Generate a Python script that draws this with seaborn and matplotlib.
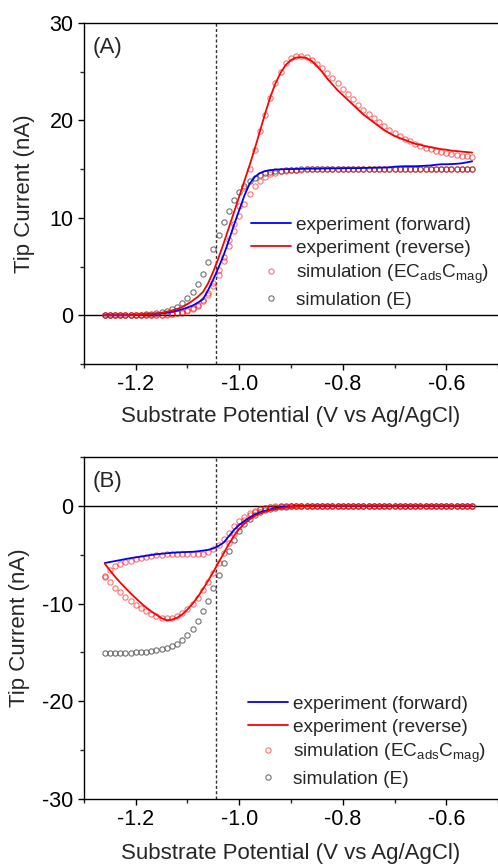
import seaborn as sns
import matplotlib.pyplot as plt
from matplotlib.ticker import MultipleLocator, FormatStrFormatter

# substrate potential (V vs Ag/AgCl), shared by every series
potential = [-1.26, -1.25, -1.24, -1.23, -1.22, -1.21, -1.20, -1.19, -1.18, -1.17,
             -1.16, -1.15, -1.14, -1.13, -1.12, -1.11, -1.10, -1.09, -1.08, -1.07,
             -1.06, -1.05, -1.04, -1.03, -1.02, -1.01, -1.00, -0.99, -0.98, -0.97,
             -0.96, -0.95, -0.94, -0.93, -0.92, -0.91, -0.90, -0.89, -0.88, -0.87,
             -0.86, -0.85, -0.84, -0.83, -0.82, -0.81, -0.80, -0.79, -0.78, -0.77,
             -0.76, -0.75, -0.74, -0.73, -0.72, -0.71, -0.70, -0.69, -0.68, -0.67,
             -0.66, -0.65, -0.64, -0.63, -0.62, -0.61, -0.60, -0.59, -0.58, -0.57,
             -0.56, -0.55]

# --- panel (A), tip current in nA ---
a_exp_fwd = [0.0, 0.0, 0.0, 0.0, 0.01, 0.02, 0.03, 0.05, 0.07, 0.1,
             0.15, 0.21, 0.28, 0.37, 0.48, 0.62, 0.8, 1.0, 1.3, 1.65,
             2.6, 3.7, 4.9, 6.2, 7.7, 9.3, 10.8, 12.3, 13.5, 14.2,
             14.6, 14.8, 14.9, 14.95, 14.98, 15.0, 15.0, 15.02, 15.03, 15.04,
             15.05, 15.05, 15.06, 15.07, 15.08, 15.08, 15.09, 15.1, 15.1, 15.1,
             15.12, 15.13, 15.14, 15.15, 15.16, 15.18, 15.25, 15.28, 15.3, 15.3,
             15.3, 15.32, 15.35, 15.38, 15.45, 15.5, 15.5, 15.52, 15.55, 15.6,
             15.7, 15.8]
a_exp_rev = [0.0, 0.0, 0.0, 0.0, 0.01, 0.02, 0.04, 0.06, 0.09, 0.13,
             0.19, 0.27, 0.37, 0.5, 0.65, 0.85, 1.15, 1.5, 1.9, 2.4,
             3.3, 4.5, 5.9, 7.4, 9.0, 10.6, 12.2, 13.8, 15.4, 17.1,
             18.9, 20.7, 22.4, 23.8, 24.9, 25.7, 26.2, 26.45, 26.5, 26.4,
             26.1, 25.6, 25.0, 24.3, 23.7, 23.1, 22.6, 22.1, 21.6, 21.1,
             20.6, 20.2, 19.8, 19.4, 19.0, 18.7, 18.4, 18.2, 18.0, 17.8,
             17.6, 17.5, 17.35, 17.25, 17.15, 17.05, 17.0, 16.9, 16.85, 16.8,
             16.75, 16.7]
a_sim_fwd = [0.0, 0.0, 0.0, 0.0, 0.0, 0.0, 0.01, 0.01, 0.02, 0.02,
             0.03, 0.05, 0.08, 0.12, 0.19, 0.28, 0.43, 0.65, 0.97, 1.44,
             2.09, 2.99, 4.15, 5.55, 7.1, 8.69, 10.18, 11.46, 12.5, 13.26,
             13.82, 14.2, 14.47, 14.65, 14.77, 14.85, 14.9, 14.94, 14.96, 14.97,
             14.98, 14.99, 15.0, 15.0, 15.0, 15.0, 15.0, 15.0, 15.0, 15.0,
             15.0, 15.0, 15.0, 15.0, 15.0, 15.0, 15.0, 15.0, 15.0, 15.0,
             15.0, 15.0, 15.0, 15.0, 15.0, 15.0, 15.0, 15.0, 15.0, 15.0,
             15.0, 15.0]
a_sim_rev = [0.0, 0.0, 0.0, 0.0, 0.0, 0.0, 0.0, 0.01, 0.02, 0.03,
             0.05, 0.07, 0.1, 0.15, 0.22, 0.33, 0.5, 0.75, 1.1, 1.6,
             2.3, 3.3, 4.6, 6.0, 7.7, 9.4, 11.2, 13.1, 15.0, 17.0,
             18.9, 20.6, 22.3, 23.8, 25.0, 25.85, 26.4, 26.65, 26.65, 26.5,
             26.2, 25.8, 25.35, 24.85, 24.35, 23.8, 23.25, 22.7, 22.15, 21.6,
             21.1, 20.65, 20.2, 19.8, 19.4, 19.05, 18.7, 18.4, 18.1, 17.85,
             17.6, 17.4, 17.2, 17.05, 16.9, 16.75, 16.65, 16.55, 16.45, 16.35,
             16.3, 16.2]
a_sim_e = [0.0, 0.01, 0.01, 0.01, 0.02, 0.03, 0.05, 0.07, 0.1, 0.15,
           0.21, 0.3, 0.43, 0.62, 0.88, 1.24, 1.73, 2.38, 3.21, 4.26,
           5.47, 6.81, 8.19, 9.53, 10.74, 11.79, 12.63, 13.27, 13.76, 14.12,
           14.38, 14.57, 14.7, 14.79, 14.85, 14.9, 14.93, 14.95, 14.97, 14.98,
           15.0, 15.0, 15.0, 15.0, 15.0, 15.0, 15.0, 15.0, 15.0, 15.0,
           15.0, 15.0, 15.0, 15.0, 15.0, 15.0, 15.0, 15.0, 15.0, 15.0,
           15.0, 15.0, 15.0, 15.0, 15.0, 15.0, 15.0, 15.0, 15.0, 15.0,
           15.0, 15.0]

# --- panel (B), tip current in nA ---
b_exp_fwd = [-5.85, -5.75, -5.65, -5.55, -5.45, -5.35, -5.27, -5.19, -5.11, -5.03,
             -4.95, -4.9, -4.85, -4.8, -4.77, -4.74, -4.72, -4.7, -4.65, -4.58,
             -4.5, -4.35, -4.1, -3.75, -3.1, -2.45, -1.95, -1.55, -1.2, -0.9,
             -0.67, -0.5, -0.35, -0.22, -0.13, -0.08, -0.05, -0.03, -0.02, -0.01,
             0.0, 0.0, 0.0, 0.0, 0.0, 0.0, 0.0, 0.0, 0.0, 0.0,
             0.0, 0.0, 0.0, 0.0, 0.0, 0.0, 0.0, 0.0, 0.0, 0.0,
             0.0, 0.0, 0.0, 0.0, 0.0, 0.0, 0.0, 0.0, 0.0, 0.0,
             0.0, 0.0]
b_exp_rev = [-5.9, -6.6, -7.25, -7.85, -8.4, -8.95, -9.45, -9.95, -10.4, -10.8,
             -11.15, -11.5, -11.7, -11.65, -11.45, -11.1, -10.6, -10.0, -9.3, -8.5,
             -7.65, -6.75, -5.8, -4.85, -3.9, -3.05, -2.35, -1.8, -1.4, -1.05,
             -0.8, -0.6, -0.45, -0.33, -0.24, -0.17, -0.12, -0.08, -0.05, -0.03,
             -0.02, -0.01, 0.0, 0.0, 0.0, 0.0, 0.0, 0.0, 0.0, 0.0,
             0.0, 0.0, 0.0, 0.0, 0.0, 0.0, 0.0, 0.0, 0.0, 0.0,
             0.0, 0.0, 0.0, 0.0, 0.0, 0.0, 0.0, 0.0, 0.0, 0.0,
             0.0, 0.0]
b_sim_fwd = [-7.2, -6.6, -6.2, -5.95, -5.75, -5.6, -5.45, -5.35, -5.25, -5.15,
             -5.08, -5.0, -4.95, -4.92, -4.9, -4.9, -4.9, -4.92, -4.93, -4.9,
             -4.75, -4.45, -4.0, -3.4, -2.75, -2.1, -1.55, -1.1, -0.75, -0.5,
             -0.32, -0.2, -0.12, -0.07, -0.04, -0.02, -0.01, 0.0, 0.0, 0.0,
             0.0, 0.0, 0.0, 0.0, 0.0, 0.0, 0.0, 0.0, 0.0, 0.0,
             0.0, 0.0, 0.0, 0.0, 0.0, 0.0, 0.0, 0.0, 0.0, 0.0,
             0.0, 0.0, 0.0, 0.0, 0.0, 0.0, 0.0, 0.0, 0.0, 0.0,
             0.0, 0.0]
b_sim_rev = [-7.3, -7.8, -8.4, -8.85, -9.3, -9.7, -10.1, -10.45, -10.8, -11.1,
             -11.3, -11.45, -11.5, -11.45, -11.3, -11.0, -10.6, -10.05, -9.4, -8.65,
             -7.8, -6.85, -5.85, -4.8, -3.8, -2.9, -2.1, -1.45, -0.95, -0.6,
             -0.35, -0.2, -0.11, -0.06, -0.03, -0.01, 0.0, 0.0, 0.0, 0.0,
             0.0, 0.0, 0.0, 0.0, 0.0, 0.0, 0.0, 0.0, 0.0, 0.0,
             0.0, 0.0, 0.0, 0.0, 0.0, 0.0, 0.0, 0.0, 0.0, 0.0,
             0.0, 0.0, 0.0, 0.0, 0.0, 0.0, 0.0, 0.0, 0.0, 0.0,
             0.0, 0.0]
b_sim_e = [-15.1, -15.1, -15.1, -15.1, -15.05, -15.05, -15.0, -15.0, -14.95, -14.9,
           -14.8, -14.7, -14.55, -14.35, -14.1, -13.75, -13.25, -12.6, -11.8, -10.8,
           -9.7, -8.4, -7.1, -5.8, -4.6, -3.5, -2.6, -1.9, -1.35, -0.95,
           -0.65, -0.45, -0.3, -0.2, -0.13, -0.08, -0.05, -0.03, -0.02, -0.01,
           0.0, 0.0, 0.0, 0.0, 0.0, 0.0, 0.0, 0.0, 0.0, 0.0,
           0.0, 0.0, 0.0, 0.0, 0.0, 0.0, 0.0, 0.0, 0.0, 0.0,
           0.0, 0.0, 0.0, 0.0, 0.0, 0.0, 0.0, 0.0, 0.0, 0.0,
           0.0, 0.0]

formal_potential = -1.044

labels = ['experiment (forward)', 'experiment (reverse)',
          'simulation (EC$_{\\mathrm{ads}}$C$_{\\mathrm{mag}}$)', 'simulation (E)']

sns.set_style('ticks')
plt.rcParams['font.family'] = ['Liberation Sans', 'DejaVu Sans']
plt.rcParams['mathtext.fontset'] = 'custom'
plt.rcParams['mathtext.rm'] = 'Liberation Sans'
plt.rcParams['mathtext.it'] = 'Liberation Sans'
plt.rcParams['axes.unicode_minus'] = False

RED_SIM = (1.0, 0.0, 0.0, 0.55)
GRAY_SIM = (0.3, 0.3, 0.3, 0.8)


def draw_panel(ax, exp_fwd, exp_rev, sim_fwd, sim_rev, sim_e, ylim, tag, leg_anchor, xlab_y, ylab_x):
    ax.axhline(0, color='black', lw=1.0, zorder=1)
    ax.axvline(formal_potential, color='#333333', lw=1.0, ls=(0, (2.2, 1.6)), zorder=1)

    circ = dict(marker='o', linestyle='', mfc='none', ms=3.8, mew=0.8,
                sort=False, estimator=None, legend=False, ax=ax)
    sns.lineplot(x=potential, y=sim_e, color=GRAY_SIM, mec=GRAY_SIM, **circ)
    h_e = ax.lines[-1]
    sns.lineplot(x=potential, y=sim_fwd, color=RED_SIM, mec=RED_SIM, **circ)
    sns.lineplot(x=potential, y=sim_rev, color=RED_SIM, mec=RED_SIM, **circ)
    h_sim = ax.lines[-1]

    sns.lineplot(x=potential, y=exp_fwd, color='#0000ff', lw=1.3, sort=False,
                 estimator=None, legend=False, ax=ax)
    h_fwd = ax.lines[-1]
    sns.lineplot(x=potential, y=exp_rev, color='#ff0000', lw=1.3, sort=False,
                 estimator=None, legend=False, ax=ax)
    h_rev = ax.lines[-1]

    ax.set_xlim(-1.3, -0.5)
    ax.set_ylim(*ylim)
    ax.xaxis.set_major_locator(MultipleLocator(0.2))
    ax.xaxis.set_minor_locator(MultipleLocator(0.1))
    ax.xaxis.set_major_formatter(FormatStrFormatter('%.1f'))
    ax.yaxis.set_major_locator(MultipleLocator(10))
    ax.yaxis.set_minor_locator(MultipleLocator(5))
    ax.yaxis.set_major_formatter(FormatStrFormatter('%d'))
    ax.tick_params(which='major', direction='out', length=4.5, width=1, labelsize=15.5,
                   pad=3, colors='black')
    ax.tick_params(which='minor', direction='out', length=3, width=1)
    for s in ['left', 'top', 'bottom']:
        ax.spines[s].set_color('black')
        ax.spines[s].set_linewidth(1.0)
    ax.spines['right'].set_visible(False)

    ax.set_xlabel('Substrate Potential (V vs Ag/AgCl)', fontsize=16)
    ax.set_ylabel('Tip Current (nA)', fontsize=16)
    ax.xaxis.set_label_coords(0.5, xlab_y)
    ax.yaxis.set_label_coords(ylab_x, 0.5)
    ax.text(0.022, 0.958, tag, transform=ax.transAxes, fontsize=16, va='top')

    ax.legend([h_fwd, h_rev, h_sim, h_e], labels, frameon=False, fontsize=13.7,
              loc='upper left', bbox_to_anchor=leg_anchor, borderpad=0, borderaxespad=0,
              handlelength=2.1, handletextpad=0.26, labelspacing=0.3, numpoints=1)


fig = plt.figure(figsize=(4.98, 8.64), dpi=100)
ax_a = fig.add_axes([84 / 498, 1 - 364 / 864, 414 / 498, 341 / 864])
ax_b = fig.add_axes([84 / 498, 1 - 799 / 864, 414 / 498, 342 / 864])

draw_panel(ax_a, a_exp_fwd, a_exp_rev, a_sim_fwd, a_sim_rev, a_sim_e,
           (-5, 30), '(A)', (0.403, 0.432), -0.123, -0.118)
draw_panel(ax_b, b_exp_fwd, b_exp_rev, b_sim_fwd, b_sim_rev, b_sim_e,
           (-30, 5), '(B)', (0.396, 0.302), -0.129, -0.130)

fig.savefig('out.png', dpi=100)
plt.close()
